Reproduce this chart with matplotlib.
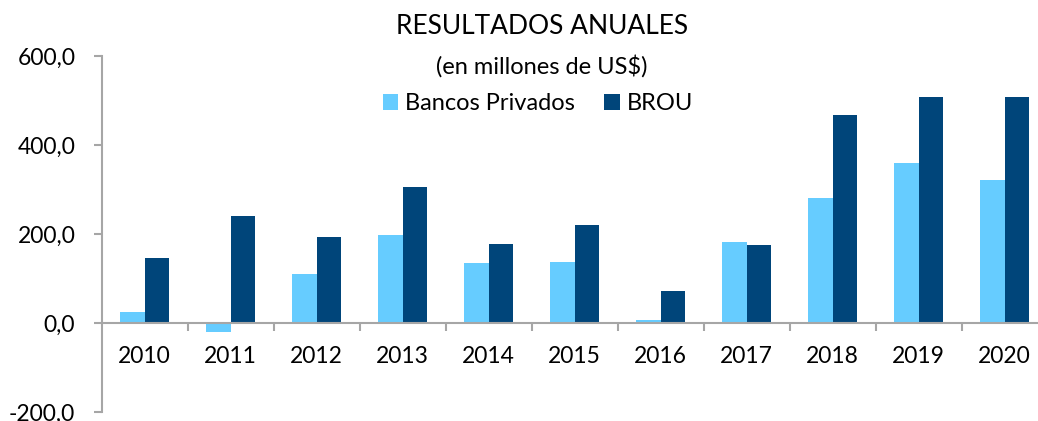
import numpy as np
from matplotlib import pyplot as plt
from matplotlib.ticker import FuncFormatter, FixedLocator

plt.rcParams['font.family'] = ['Lato', 'DejaVu Sans']

# datos (en millones de US$)
anios = ['2010', '2011', '2012', '2013', '2014', '2015', '2016', '2017', '2018', '2019', '2020']
bancos_privados = [25, -19, 110, 199, 136, 138, 7, 183, 282, 361, 321]
brou = [146, 241, 194, 306, 179, 220, 73, 176, 467, 508, 509]

color_priv = '#66CCFF'
color_brou = '#00457A'
gris = '#A6A6A6'

fig = plt.figure(figsize=(10.38, 4.21), dpi=100)
ax = fig.add_axes([0.098, 0.0207, 0.9112, 0.8456])

x = np.arange(len(anios))
w = 0.286
ax.bar(x - w / 2, bancos_privados, w, color=color_priv, label='Bancos Privados', zorder=2)
ax.bar(x + w / 2, brou, w, color=color_brou, label='BROU', zorder=2)

ax.set_xlim(-0.5, len(anios) - 0.5)
ax.set_ylim(-200, 600)
ax.set_yticks([-200, 0, 200, 400, 600])
ax.yaxis.set_major_formatter(FuncFormatter(lambda v, p: f'{v:.1f}'.replace('.', ',')))

# ejes
for s in ['top', 'right']:
    ax.spines[s].set_visible(False)
ax.spines['left'].set_color(gris)
ax.spines['left'].set_linewidth(1.5)
ax.spines['bottom'].set_position(('data', 0))
ax.spines['bottom'].set_color(gris)
ax.spines['bottom'].set_linewidth(1.5)
ax.spines['bottom'].set_zorder(3)

ax.set_xticks(x)
ax.set_xticklabels(anios)
ax.xaxis.set_minor_locator(FixedLocator(np.arange(0.5, len(anios) - 0.5, 1)))
ax.tick_params(axis='x', which='major', length=0, pad=16, labelsize=16.5, colors='black')
ax.tick_params(axis='x', which='minor', length=6, width=1.5, color=gris, direction='out')
ax.tick_params(axis='y', length=6, width=1.5, color=gris, pad=13, labelsize=16.5, labelcolor='black')

# titulo
fig.text(542 / 1038, 1 - 27 / 421, 'RESULTADOS ANUALES', ha='center', va='center', fontsize=19)
fig.text(542 / 1038, 1 - 66 / 421, '(en millones de US$)', ha='center', va='center', fontsize=17)

fig.legend(loc='center', bbox_to_anchor=(538 / 1038, 1 - 104 / 421), ncol=2, frameon=False,
           fontsize=17, handlelength=0.66, handleheight=0.66, handletextpad=0.3,
           columnspacing=1.23, borderpad=0)

fig.savefig('out.png', dpi=100)
